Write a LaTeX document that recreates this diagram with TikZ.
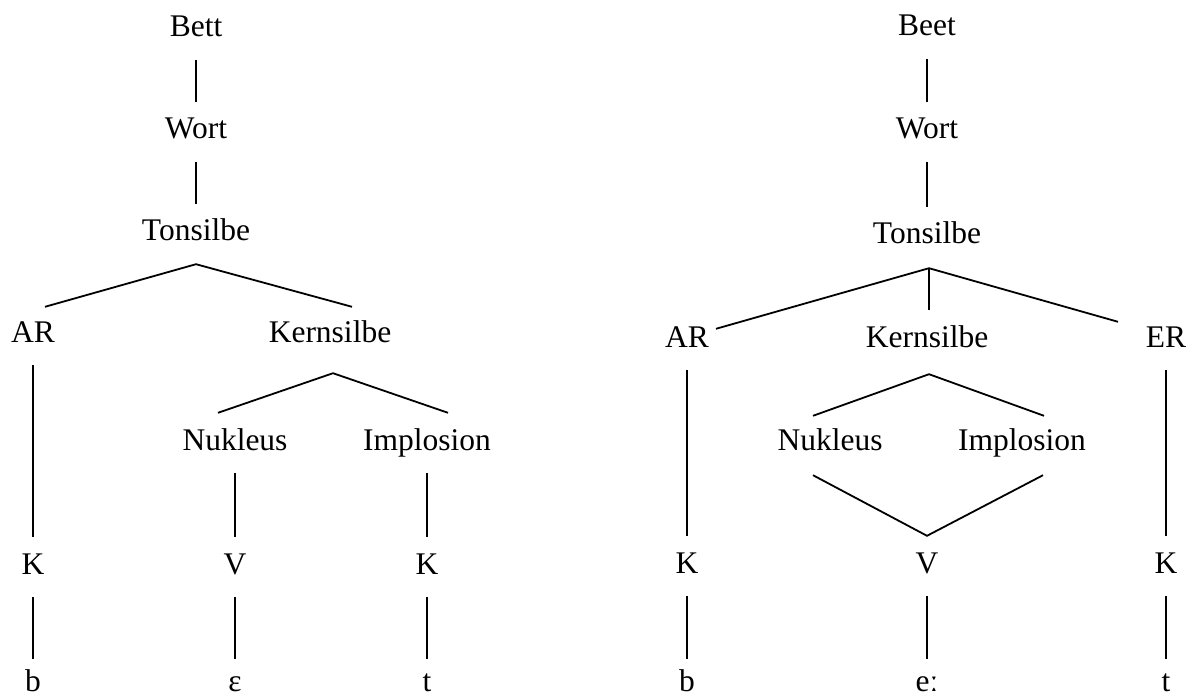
\documentclass[tikz,border=0pt]{standalone}
\usepackage{fontspec}
\setmainfont{Liberation Serif}
\usepackage{tikz}
\tikzstyle{tree} = [x = 1pt, y = -1pt]
\tikzstyle{treeLabel} = [anchor=base, font=\fontsize{31.5}{36}\selectfont, text height=22pt, text depth=8pt, inner xsep=8pt, inner ysep=15pt]
\tikzstyle{leafLabel} = [treeLabel, text height=32pt, text depth=0pt, inner ysep=0pt]
\tikzstyle{branchLine} = [color=black, line width=1.8pt]
\tikzstyle{thinLine} = [color=black, line width=1.2pt]
\newcommand{\treeNode}[4]{\node [treeLabel] (#1) at (#2, #3) {#4};}
\newcommand{\leafNode}[4]{\node [leafLabel] (#1) at (#2, #3) {#4};}
\newcommand{\branch}[2]{\draw [branchLine] (#1) -- (#2);}
\newcommand{\fork}[3]{\draw [branchLine] (#1) -- (#2) -- (#3);}
\begin{document}
\begin{tikzpicture}[tree]
  \useasboundingbox (0,0) rectangle (1190,700);
  % Bett
  \treeNode{lBett}{196}{37}{Bett}
  \treeNode{lWort}{196}{139}{Wort}
  \treeNode{lTon}{196}{241}{Tonsilbe}
  \treeNode{lAR}{33}{342}{AR}
  \treeNode{lKern}{330}{342}{Kernsilbe}
  \treeNode{lNuk}{235}{450}{Nukleus}
  \treeNode{lImp}{427}{450}{Implosion}
  \treeNode{lKa}{33}{574}{K}
  \treeNode{lV}{235}{574}{V}
  \treeNode{lKb}{427}{574}{K}
  \leafNode{lb}{33}{691}{b}
  \leafNode{lvowel}{235}{691}{ɛ}
  \leafNode{lt}{427}{691}{t}
  \branch{lBett.south}{lWort.north}
  \branch{lWort.south}{lTon.north}
  \fork{[shift={(12,2)}]lAR.north}{lTon.south}{[shift={(22,2)}]lKern.north}
  \fork{[shift={(-17,0)}]lNuk.north}{[shift={(3,8)}]lKern.south}{[shift={(21,0)}]lImp.north}
  \branch{lAR.south}{lKa.north}
  \branch{lNuk.south}{lV.north}
  \branch{lImp.south}{lKb.north}
  \branch{lKa.south}{lb.north}
  \branch{lV.south}{lvowel.north}
  \branch{lKb.south}{lt.north}
  % Beet
  \treeNode{rBeet}{927}{36}{Beet}
  \treeNode{rWort}{927}{139}{Wort}
  \treeNode{rTon}{927}{244}{Tonsilbe}
  \treeNode{rAR}{687}{347}{AR}
  \treeNode{rKern}{927}{347}{Kernsilbe}
  \treeNode{rER}{1166}{347}{ER}
  \treeNode{rNuk}{830}{450}{Nukleus}
  \treeNode{rImp}{1022}{450}{Implosion}
  \treeNode{rKa}{687}{573}{K}
  \treeNode{rV}{927}{573}{V}
  \treeNode{rKb}{1166}{573}{K}
  \leafNode{rb}{687}{691}{b}
  \leafNode{rvowel}{927}{691}{eː}
  \leafNode{rt}{1166}{691}{t}
  \branch{rBeet.south}{rWort.north}
  \branch{rWort.south}{rTon.north}
  \fork{[shift={(29,19)}]rAR.north}{[shift={(2,1)}]rTon.south}{[shift={(-48,12)}]rER.north}
  \draw [thinLine] ([shift={(2,1)}]rTon.south) -- ([shift={(2,0)}]rKern.north);
  \fork{[shift={(-17,3)}]rNuk.north}{[shift={(2,4)}]rKern.south}{[shift={(22,3)}]rImp.north}
  \fork{[shift={(-17,2)}]rNuk.south}{rV.north}{[shift={(21,2)}]rImp.south}
  \branch{rAR.south}{rKa.north}
  \branch{rER.south}{rKb.north}
  \branch{rKa.south}{rb.north}
  \branch{rV.south}{rvowel.north}
  \branch{rKb.south}{rt.north}
\end{tikzpicture}
\end{document}
